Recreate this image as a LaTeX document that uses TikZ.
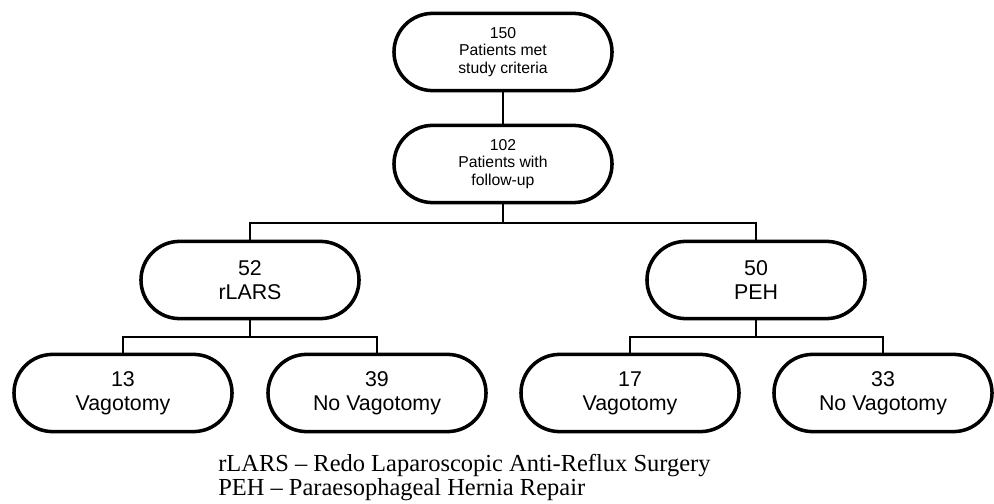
\documentclass[tikz,border=0pt]{standalone}
\usepackage{fontspec}
\setmainfont{Liberation Serif}
\setsansfont{Liberation Sans}
\usetikzlibrary{shapes.misc}
\begin{document}
\begin{tikzpicture}[
  x=0.025cm, y=-0.025cm,
  pill/.style={draw, rounded rectangle, line width=2.5pt, minimum width=5.45cm, minimum height=1.93cm, align=center, inner sep=0pt},
  toppill/.style={pill, font=\sffamily\fontsize{11.2}{12.2}\selectfont},
  lowpill/.style={pill, font=\sffamily\fontsize{15.2}{17}\selectfont},
  link/.style={line width=0.75pt},
  legend/.style={font=\rmfamily\fontsize{17.4}{17}\selectfont, anchor=base west, inner sep=0pt},
]
\useasboundingbox (0,0) rectangle (994,504);

% --- top of the chart ---
\node[toppill] (met) at (503, 52) {150\\Patients met\\study criteria};
\node[toppill] (follow) at (503, 164) {102\\Patients with\\follow-up};
\draw[link] (met.south) -- (follow.north);

% --- operation groups ---
\node[lowpill] (lars) at (250, 280) {52\\rLARS};
\node[lowpill] (peh) at (756, 280) {50\\PEH};
\coordinate (split) at (503, 223);
\draw[link] (follow.south) -- (split);
\draw[link] (lars.north) |- (split) -| (peh.north);

% --- vagotomy or not ---
\node[lowpill] (larsvag) at (123, 393) {13\\Vagotomy};
\node[lowpill] (larsnovag) at (377, 393) {39\\No Vagotomy};
\node[lowpill] (pehvag) at (630, 393) {17\\Vagotomy};
\node[lowpill] (pehnovag) at (883, 393) {33\\No Vagotomy};
\coordinate (larssplit) at (250, 337);
\coordinate (pehsplit) at (756, 337);
\draw[link] (lars.south) -- (larssplit);
\draw[link] (larsvag.north) |- (larssplit) -| (larsnovag.north);
\draw[link] (peh.south) -- (pehsplit);
\draw[link] (pehvag.north) |- (pehsplit) -| (pehnovag.north);

% --- abbreviations ---
\node[legend] (leglars) at (218, 471) {rLARS -- Redo Laparoscopic Anti-Reflux Surgery};
\node[legend] (legpeh) at (218, 495) {PEH -- Paraesophageal Hernia Repair};
\end{tikzpicture}
\end{document}
